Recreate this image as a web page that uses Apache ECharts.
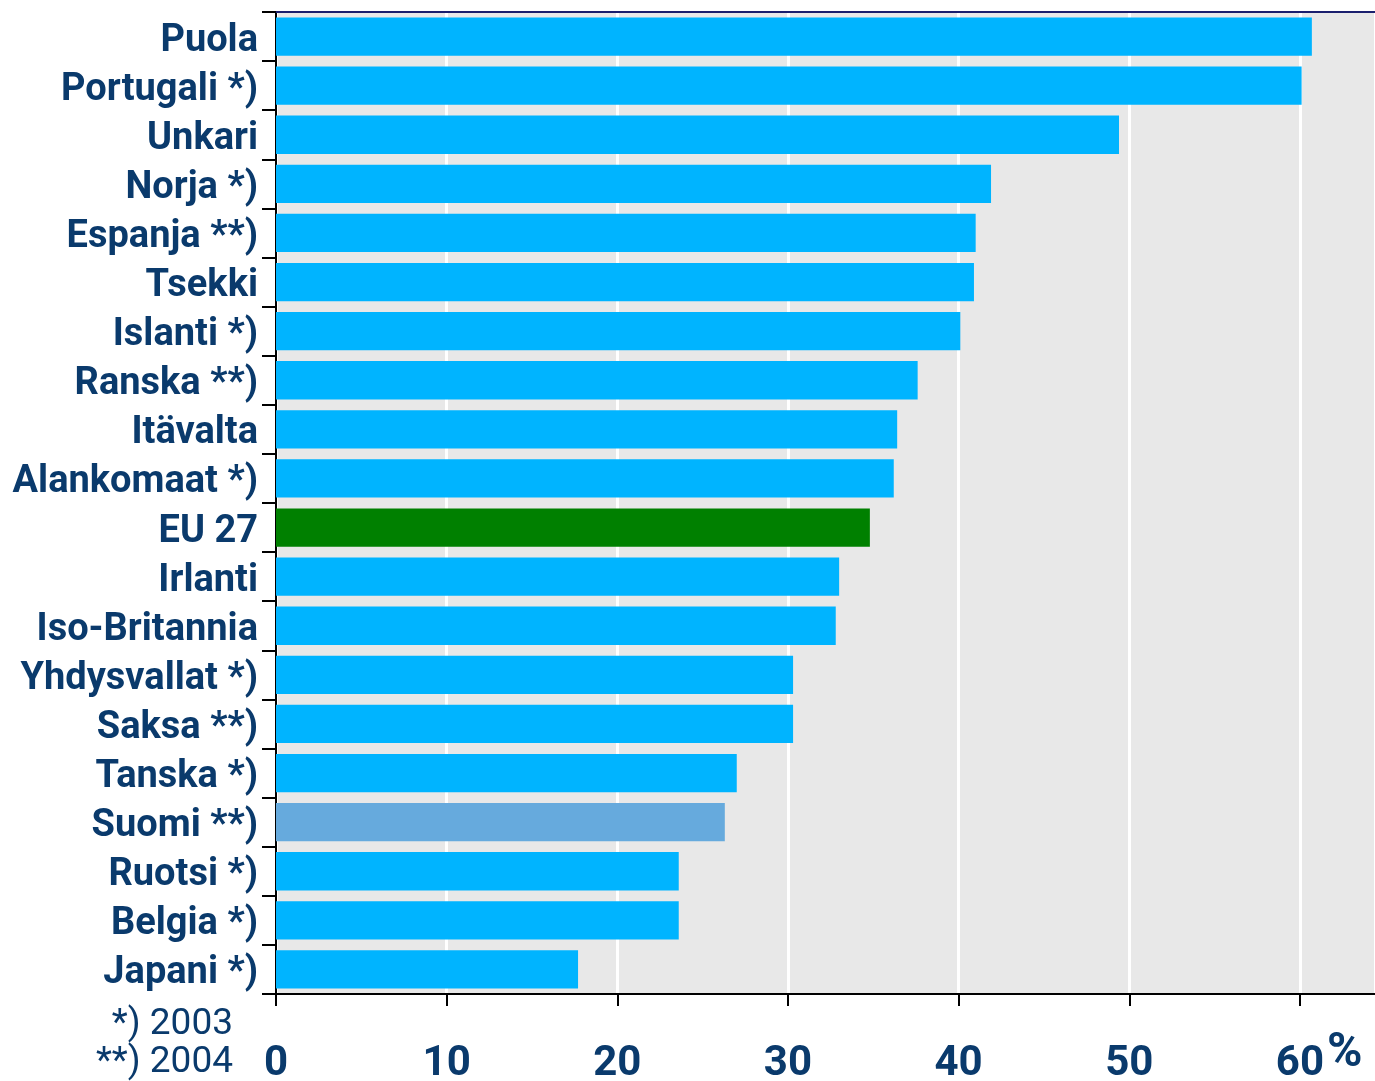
<!DOCTYPE html>
<html>
<head>
<meta charset="utf-8">
<script src="https://cdn.jsdelivr.net/npm/echarts@6/dist/echarts.min.js"></script>
<style>
  html, body { margin: 0; padding: 0; background: #fff; }
  #chart { width: 1375px; height: 1081px; }
</style>
</head>
<body>
<div id="chart"></div>
<script>
const countries = [
  'Puola', 'Portugali *)', 'Unkari', 'Norja *)', 'Espanja **)', 'Tsekki',
  'Islanti *)', 'Ranska **)', 'Itävalta', 'Alankomaat *)', 'EU 27', 'Irlanti',
  'Iso-Britannia', 'Yhdysvallat *)', 'Saksa **)', 'Tanska *)', 'Suomi **)',
  'Ruotsi *)', 'Belgia *)', 'Japani *)'
]
const shares = [
  60.7, 60.1, 49.4, 41.9, 41.0, 40.9, 40.1, 37.6, 36.4, 36.2, 34.8, 33.0,
  32.8, 30.3, 30.3, 27.0, 26.3, 23.6, 23.6, 17.7
]
const xTicks = [0, 10, 20, 30, 40, 50, 60]
const footnotes = ['*) 2003', '**) 2004']

const TEXT = '#0a3a6c'
const BAR = '#00b4ff'
const highlight = { 'EU 27': '#008000', 'Suomi **)': '#66aadd' }

const chart = echarts.init(document.getElementById('chart'))

chart.setOption({
  animation: false,
  grid: {
    left: 276,
    right: 0,
    top: 12,
    bottom: 87,
    outerBoundsMode: 'none',
    show: true,
    backgroundColor: '#e8e8e8',
    borderWidth: 0,
  },
  xAxis: [
    {
      type: 'value',
      min: 0,
      max: 64.4,
      interval: 10,
      axisLine: { show: true, lineStyle: { color: '#000', width: 2 } },
      axisTick: { show: true, length: 12, lineStyle: { color: '#000', width: 2 } },
      splitLine: { show: true, lineStyle: { color: '#fff', width: 3 } },
      axisLabel: {
        margin: 49,
        color: TEXT,
        fontFamily: 'Roboto',
        fontWeight: 'bold',
        fontSize: 42,
        showMaxLabel: false,
        formatter: (v) => (xTicks.includes(v) ? String(v) : ''),
      },
    },
    {
      type: 'value',
      position: 'top',
      min: 0,
      max: 64.4,
      axisLine: { show: true, lineStyle: { color: '#1a1f6e', width: 2 } },
      axisTick: { show: false },
      axisLabel: { show: false },
      splitLine: { show: false },
    },
  ],
  yAxis: {
    type: 'category',
    inverse: true,
    data: countries,
    axisLine: { show: true, lineStyle: { color: '#000', width: 2 } },
    axisTick: { show: true, length: 14, lineStyle: { color: '#000', width: 2 } },
    axisLabel: {
      interval: 0,
      hideOverlap: false,
      margin: 18,
      // empty spacer line pushes the name a few px down, as in the source
      formatter: (v) => '{g| }\n{t|' + v + '}',
      rich: {
        g: { height: 9, lineHeight: 9, fontSize: 6 },
        t: {
          color: TEXT,
          fontFamily: 'Roboto',
          fontWeight: 'bold',
          fontSize: 38,
          lineHeight: 42,
        },
      },
    },
  },
  series: [
    {
      type: 'bar',
      barWidth: '78%',
      data: shares.map((v, i) => ({
        value: v,
        itemStyle: { color: highlight[countries[i]] || BAR },
      })),
    },
  ],
  graphic: footnotes.map((t, i) => ({
    type: 'text',
    x: 233,
    y: 1025 + i * 37.5,
    style: {
      text: t,
      fill: TEXT,
      font: '37px Roboto',
      align: 'right',
      verticalAlign: 'middle',
    },
  })).concat([
    {
      type: 'text',
      x: 1327,
      y: 1054,
      style: {
        text: '%',
        fill: TEXT,
        font: 'bold 48px Roboto',
        align: 'left',
        verticalAlign: 'middle',
      },
    },
  ]),
})
</script>
</body>
</html>
